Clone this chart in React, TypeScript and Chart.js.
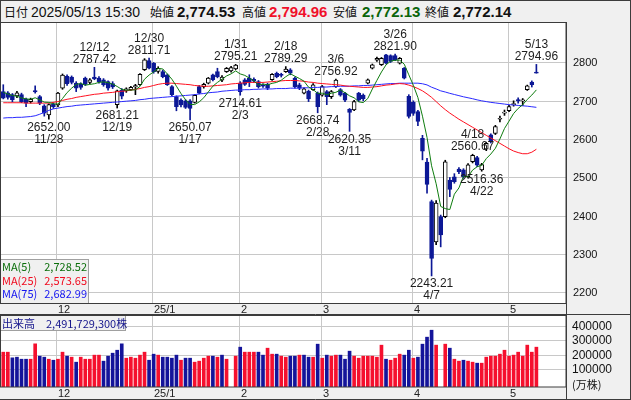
import React, { useEffect, useRef } from 'react';
import { Chart, registerables } from 'chart.js';
Chart.register(...registerables);

// ---------- data ----------
const dates = [
  '11/14','11/15','11/18','11/19','11/20','11/21','11/22','11/25','11/26','11/27','11/28','11/29',
  '12/2','12/3','12/4','12/5','12/6','12/9','12/10','12/11','12/12','12/13','12/16','12/17','12/18','12/19','12/20','12/23','12/24','12/25','12/26','12/27','12/30',
  '1/6','1/7','1/8','1/9','1/10','1/14','1/15','1/16','1/17','1/20','1/21','1/22','1/23','1/24','1/27','1/28','1/29','1/30','1/31',
  '2/3','2/4','2/5','2/6','2/7','2/10','2/12','2/13','2/14','2/17','2/18','2/19','2/20','2/21','2/25','2/26','2/27','2/28',
  '3/3','3/4','3/5','3/6','3/7','3/10','3/11','3/12','3/13','3/14','3/17','3/18','3/19','3/21','3/24','3/25','3/26','3/27','3/28','3/31',
  '4/1','4/2','4/3','4/4','4/7','4/8','4/9','4/10','4/11','4/14','4/15','4/16','4/17','4/18','4/21','4/22','4/23','4/24','4/25','4/28','4/30',
  '5/1','5/2','5/7','5/8','5/9','5/12','5/13'
];
const opens = [
  2724,2721,2716,2713,2716,2704,2698,2727,2711,2687,2663,2691,
  2689,2733,2764,2762,2746,2743,2759,2748,2762,2759,2755,2750,2745,2690,2728,2726,2729,2736,2742,2781,2805,
  2798,2777,2776,2768,2737,2711,2702,2700,2700,2696,2737,2737,2746,2768,2776,2754,2776,2778,2783,
  2746,2755,2759,2756,2750,2740,2743,2755,2772,2769,2776,2781,2759,2742,2720,2725,2729,2720,
  2715,2724,2711,2737,2729,2720,2678,2676,2720,2715,2746,2785,2806,2794,2820,2818,2818,2798,2785,2712,
  2696,2672,2602,2540,2437,2332,2398,2398,2493,2502,2522,2520,2502,2541,2552,2520,2574,2611,2615,2652,2668,
  2674,2690,2703,2700,2729,2749,2774.53
];
const highs = [
  2742,2724,2719,2725,2720,2707,2707,2739,2714,2690,2692,2695,
  2722,2770,2768,2765,2750,2747,2762,2758,2787.42,2763,2758,2752,2750,2728,2732,2734,2738,2743,2771,2810,2811.71,
  2800,2789,2780,2770,2740,2713,2705,2703,2703,2716,2740,2746,2761,2770,2785,2766,2787,2790,2795.21,
  2750,2758,2768,2760,2753,2744,2746,2771,2775,2772,2789.29,2784,2762,2746,2734,2728,2745,2723,
  2740,2727,2727,2756.92,2732,2722,2680,2701,2722,2718,2757,2796,2814,2813,2821,2820,2821.90,2813,2787,2716,
  2700,2675,2610,2550,2441,2440,2402,2545,2500,2510,2526,2523,2536,2560.67,2555,2537,2592,2614,2636,2660,2676,
  2688,2700,2708,2706,2741,2752,2794.96
];
const lows = [
  2705,2704,2697,2708,2695,2685,2694,2720,2690,2660,2652.00,2680,
  2685,2730,2740,2744,2724,2730,2740,2745,2755,2746,2738,2728,2732,2681.21,2705,2722,2727,2716,2740,2779,2783,
  2772,2772,2760,2740,2713,2674,2684,2680,2650.07,2694,2718,2733,2744,2752,2760,2750,2774,2775,2781,
  2714.61,2740,2737,2748,2733,2735,2729,2753,2760,2762,2774,2768,2733,2729,2718,2698,2727,2668.74,
  2712,2690,2706,2735,2712,2698,2620.35,2674,2698,2700,2744,2783,2803,2792,2796,2800,2805,2796,2757,2655,
  2662,2635,2546,2459,2243.21,2325,2319,2395,2450,2485,2510,2498,2500,2538,2528,2516.36,2570,2590,2612,2645,2662,
  2672,2686,2694,2688,2727,2736,2772.13
];
const closes = [
  2707,2709,2703,2721,2698,2694,2704,2723,2694,2668,2690,2685,
  2720,2767,2745,2748,2733,2735,2743,2755,2757,2750,2742,2733,2736,2726,2712,2731,2735,2740,2769,2807,2785,
  2776,2785,2763,2742,2716,2685,2689,2683,2680,2714,2720,2743,2759,2755,2763,2762,2785,2787,2793,
  2724,2743,2750,2751,2737,2738,2733,2769,2763,2766,2783,2772,2737,2733,2731,2705,2742,2685,
  2737,2711,2724,2754,2715,2702,2670,2698,2702,2705,2755,2794,2811,2811,2798,2803,2807,2811,2759,2659,
  2667,2646,2568.61,2482,2288.66,2433,2350,2541,2469,2489,2515,2502,2533,2558,2532,2534,2589,2593,2633,2654,2670,
  2685,2692,2700,2702,2739,2742,2772.14
];
// volume in 10k shares (万株); null = no bar drawn
const volumes = [
  219500,219500,180500,185000,171000,171000,171000,277000,192000,185000,171000,164000,
  171000,219500,192000,185000,150500,185000,171000,171000,199000,199000,157500,192000,212500,233000,277000,178000,185000,178000,199000,219500,164000,
  205700,199000,185000,185000,178000,199000,164000,178000,178000,150500,157500,178000,192000,192000,185000,199000,171000,null,192000,
  254000,219500,219500,219500,219500,199000,247000,205700,205700,192000,185000,192000,192000,199000,199000,185000,185000,274700,
  178000,199000,192000,199000,199000,171000,226400,192000,178000,192000,192000,192000,185000,267800,171000,164000,178000,205700,199000,233000,
  178000,185000,274700,323000,371000,268000,null,274700,247000,171000,157500,164000,157500,150500,143600,143600,185000,192000,192000,205700,233000,
  192000,199000,219500,192000,268000,219500,254000
];
const volumeUp = [
  1,1,0,0,0,0,1,1,0,0,1,0,
  1,1,0,1,0,1,1,1,1,1,0,0,0,0,0,1,1,1,1,1,0,
  0,1,0,0,0,0,1,0,0,1,1,1,1,0,1,0,1,1,1,
  0,1,1,1,0,0,1,1,0,1,1,0,0,1,0,0,1,0,
  1,0,1,1,0,0,0,1,1,1,1,1,1,1,0,1,1,1,0,0,
  1,0,0,0,0,1,0,1,0,1,1,0,1,1,0,1,1,1,1,1,1,
  1,1,1,1,1,1,1
];
const ma5 = [
  2722,2718,2714,2712,2707.6,2705,2704,2708,2702.6,2696.6,2695.8,2692,
  2691.4,2706,2721.4,2733,2742.6,2745.6,2740.8,2742.8,2744.6,2748,2749.4,2747.4,2743.6,2737.4,2729.8,2727.6,2728,2728.8,2737.4,2756.4,2767.2,
  2775.4,2784.4,2783.2,2770.2,2756.4,2738.2,2719,2703,2690.6,2690.2,2697.2,2708,2723.2,2738.2,2748,2756.4,2764.8,2770.4,2778,
  2770.2,2766.4,2759.4,2752.2,2741,2743.8,2741.8,2745.6,2748,2753.8,2762.8,2770.6,2764.2,2758.2,2751.2,2735.6,2729.6,2719.2,
  2720,2716,2719.8,2722.2,2728.2,2721.2,2713,2707.8,2697.4,2695.4,2706,2730.8,2753.4,2775.2,2793.8,2803.4,2806,2806,2795.6,2767.8,
  2740.6,2708.4,2659.9,2604.5,2530.5,2483.7,2424.5,2418.9,2416.3,2456.4,2472.8,2503.2,2501.6,2519.4,2528,2531.8,2549.2,2561.2,2576.2,2600.6,2627.8,
  2647,2666.8,2680.2,2689.8,2703.6,2715,2728.52
];
const ma25 = [
  2695,2695,2695,2695,2695,2694,2694,2694,2694,2694,2694,2696,
  2698,2701,2704,2706,2709,2711,2713,2715,2717,2718,2720,2721,2722,2724,2725,2726,2728,2730,2732,2735,2737,
  2740,2743,2745,2746,2746,2745,2744,2743,2742,2740,2739,2738,2738,2739,2740,2741,2742,2744,2745,
  2746,2747,2748,2748,2748,2748,2749,2750,2751,2752,2753,2753,2753,2752,2751,2749,2748,2746,
  2745,2744,2743,2742,2741,2739,2738,2737,2736,2735,2735,2736,2737,2739,2741,2742,2744,2745,2744,2741,
  2737,2732,2726,2718,2709,2698,2687,2677,2668,2660,2652,2645,2638,2631,2624,2617,2610,2603,2596,2589,2582,
  2575,2569,2565,2562,2562,2566,2573.65
];
const ma75 = [
  2655,2656,2656,2657,2657,2658,2659,2661,2665,2670,2675,2679,
  2681,2683,2685,2686,2688,2689,2690,2691,2692,2693,2694,2695,2696,2697,2698,2699,2700,2701,2703,2704,2706,
  2707,2708,2709,2710,2711,2712,2713,2714,2715,2716,2718,2719,2721,2722,2723,2725,2726,2727,2728,
  2728,2729,2729,2730,2730,2731,2731,2731,2732,2732,2732,2733,2733,2733,2734,2734,2735,2735,
  2736,2736,2737,2737,2738,2738,2738,2739,2739,2740,2740,2741,2742,2743,2744,2745,2745,2746,2746,2746,
  2746,2746,2744.5,2741.5,2735.5,2731,2726,2723,2719.5,2716.5,2713.5,2710.5,2708,2705.5,2702.5,2700,2698,2696,2694.5,2693,2691.5,
  2690,2689,2688,2687,2686,2684.5,2682.99
];
const priceTicks = [2200, 2300, 2400, 2500, 2600, 2700, 2800];
const volumeTicks = [100000, 200000, 300000, 400000];
const monthStartIdx = [12, 33, 52, 70, 90, 111];
const monthLabels = ['12', '25/1', '2', '3', '4', '5'];
const peakIdx = [10, 20, 25, 32, 41, 51, 52, 62, 69, 73, 76, 86, 94, 103, 105, 117];
const peakKind = ['L','H','L','H','L','H','L','H','L','H','L','H','L','H','L','H'];
const headerTime = '2025/05/13 15:30';
const volumeTotalText = '2,491,729,300株';

// ---------- style ----------
const BLUE = '#0c1896';
const VOL_RED = '#f5102e';
const VOL_BLUE = '#14149a';
const PAD_CATS = 6;
const RIGHT_W = 65;
const GRID = '#c8c8c8';
const FRAME = '#3c3c3c';
const PANEL_BG = '#f0f0f0';

const fmt2 = (v: number) =>
  v.toLocaleString('en-US', { minimumFractionDigits: 2, maximumFractionDigits: 2 });

function hline(ctx: CanvasRenderingContext2D, x1: number, x2: number, y: number) {
  ctx.beginPath(); ctx.moveTo(x1, y); ctx.lineTo(x2, y); ctx.stroke();
}
function vline(ctx: CanvasRenderingContext2D, x: number, y1: number, y2: number) {
  ctx.beginPath(); ctx.moveTo(x, y1); ctx.lineTo(x, y2); ctx.stroke();
}

export default function App() {
  const mainRef = useRef<HTMLCanvasElement>(null);
  const volRef = useRef<HTMLCanvasElement>(null);

  useEffect(() => {
    const n = dates.length;
    const labels = [...dates, ...Array(PAD_CATS).fill(' ')];
    const up = opens.map((o, i) => closes[i] >= o);
    const bodyData = opens.map((o, i) => [o, closes[i]]);
    const wickData = lows.map((l, i) => [l, highs[i]]);

    const monthGrid = (chart: any) => {
      const { ctx, chartArea: a } = chart;
      const xs = chart.scales.x;
      ctx.strokeStyle = GRID; ctx.lineWidth = 1;
      monthStartIdx.forEach((i) => {
        const px = Math.floor(xs.getPixelForValue(i)) - 0.5;
        vline(ctx, px, a.top, a.bottom);
      });
    };
    const monthText = (chart: any, yCenter: number) => {
      const { ctx } = chart;
      const xs = chart.scales.x;
      ctx.fillStyle = '#222';
      ctx.font = '11px "Liberation Sans", Arial, sans-serif';
      ctx.textAlign = 'left'; ctx.textBaseline = 'middle';
      monthStartIdx.forEach((i, k) => {
        const px = Math.floor(xs.getPixelForValue(i));
        ctx.fillText(monthLabels[k], px + 1, yCenter);
      });
    };

    const mainPlugin = {
      id: 'mainDecor',
      beforeDatasetsDraw(chart: any) {
        const { ctx, chartArea: a } = chart;
        const ys = chart.scales.y;
        ctx.save();
        ctx.fillStyle = PANEL_BG; ctx.fillRect(0, 0, chart.width, chart.height);
        ctx.fillStyle = '#fff'; ctx.fillRect(0, a.top, a.right, a.bottom - a.top);
        ctx.strokeStyle = GRID; ctx.lineWidth = 1;
        priceTicks.forEach((t) => {
          const py = Math.round(ys.getPixelForValue(t)) + 0.5;
          hline(ctx, 0, a.right, py);
        });
        monthGrid(chart);
        ctx.restore();
      },
      afterDraw(chart: any) {
        const { ctx, chartArea: a } = chart;
        const xs = chart.scales.x, ys = chart.scales.y;
        ctx.save();
        // peak annotations
        ctx.fillStyle = '#1e1e1e';
        ctx.font = '12px "Liberation Sans", Arial, sans-serif';
        ctx.textAlign = 'center'; ctx.textBaseline = 'middle';
        peakIdx.forEach((i, k) => {
          const px = xs.getPixelForValue(i);
          if (peakKind[k] === 'H') {
            const py = ys.getPixelForValue(highs[i]);
            ctx.fillText(highs[i].toFixed(2), px, py - 7.5);
            ctx.fillText(dates[i], px, py - 19.5);
          } else {
            const py = ys.getPixelForValue(lows[i]);
            ctx.fillText(lows[i].toFixed(2), px, py + 8);
            ctx.fillText(dates[i], px, py + 20);
          }
        });
        // MA legend box
        const bx = 0.5, by = a.bottom - 44 + 0.5, bw = 88, bh = 44;
        ctx.fillStyle = PANEL_BG; ctx.fillRect(bx, by, bw, bh);
        ctx.strokeStyle = '#a0a0a0'; ctx.strokeRect(bx, by, bw, bh);
        ctx.font = '11px "Noto Sans CJK JP", sans-serif';
        ctx.textBaseline = 'middle';
        const rows: [string, number, string][] = [
          ['MA(5)', ma5[n - 1], '#0a6e0a'],
          ['MA(25)', ma25[n - 1], '#f00a1e'],
          ['MA(75)', ma75[n - 1], '#1414f0'],
        ];
        rows.forEach(([name, v, c], r) => {
          const yy = by + 7.5 + r * 13.5;
          ctx.fillStyle = c;
          ctx.textAlign = 'left'; ctx.fillText(name, 2, yy);
          ctx.textAlign = 'right'; ctx.fillText(fmt2(v), 87, yy);
        });
        // right axis labels
        ctx.fillStyle = '#111';
        ctx.font = '11px "Liberation Sans", Arial, sans-serif';
        ctx.textAlign = 'left'; ctx.textBaseline = 'middle';
        priceTicks.forEach((t) => {
          ctx.fillText(String(t), a.right + 7, Math.round(ys.getPixelForValue(t)) + 1);
        });
        // month labels under chart
        monthText(chart, (a.bottom + chart.height) / 2 + 0.5);
        // frame
        ctx.strokeStyle = FRAME; ctx.lineWidth = 1;
        ctx.strokeRect(0.5, a.top + 0.5, a.right - 0.5, a.bottom - a.top);
        vline(ctx, a.right + 0.5, 0, chart.height);
        hline(ctx, 0, chart.width, chart.height - 0.5);
        vline(ctx, chart.width - 0.5, 0, chart.height);
        ctx.restore();
      },
    };

    const mainChart = new Chart(mainRef.current as HTMLCanvasElement, {
      type: 'bar',
      data: {
        labels,
        datasets: [
          { type: 'line', data: ma5, borderColor: '#0f7d0f', borderWidth: 1, pointRadius: 0, order: 1 } as any,
          { type: 'line', data: ma25, borderColor: '#ff1020', borderWidth: 1, pointRadius: 0, order: 1 } as any,
          { type: 'line', data: ma75, borderColor: '#2a2aff', borderWidth: 1, pointRadius: 0, order: 1 } as any,
          {
            type: 'bar', data: bodyData,
            backgroundColor: up.map((u) => (u ? '#ffffff' : BLUE)),
            borderColor: up.map((u) => (u ? '#000000' : BLUE)),
            borderWidth: 1, borderSkipped: false, barThickness: 4, grouped: false, minBarLength: 1, order: 2,
          } as any,
          {
            type: 'bar', data: wickData,
            backgroundColor: up.map((u) => (u ? '#000000' : BLUE)),
            borderWidth: 0, barThickness: 1, grouped: false, order: 3,
          } as any,
        ],
      },
      options: {
        responsive: false, animation: false, devicePixelRatio: 1, events: [],
        layout: { padding: { left: 1, right: RIGHT_W, top: 0, bottom: 12 } },
        plugins: { legend: { display: false }, tooltip: { enabled: false } },
        scales: {
          x: { type: 'category', display: false, offset: true },
          y: { type: 'linear', display: false, min: 2172.6, max: 2905.6 },
        },
      },
      plugins: [mainPlugin],
    });

    const volPlugin = {
      id: 'volDecor',
      beforeDatasetsDraw(chart: any) {
        const { ctx, chartArea: a } = chart;
        const ys = chart.scales.y;
        ctx.save();
        ctx.fillStyle = PANEL_BG; ctx.fillRect(0, 0, chart.width, chart.height);
        ctx.fillStyle = '#fff'; ctx.fillRect(0, a.top, a.right, a.bottom - a.top);
        ctx.strokeStyle = GRID; ctx.lineWidth = 1;
        volumeTicks.forEach((t) => {
          const py = Math.round(ys.getPixelForValue(t)) + 0.5;
          hline(ctx, 0, a.right, py);
        });
        monthGrid(chart);
        ctx.restore();
      },
      afterDraw(chart: any) {
        const { ctx, chartArea: a } = chart;
        const ys = chart.scales.y;
        ctx.save();
        // label box
        ctx.fillStyle = PANEL_BG; ctx.fillRect(0.5, 0.5, 125, 15);
        ctx.strokeStyle = '#a0a0a0'; ctx.strokeRect(0.5, 0.5, 125, 15);
        ctx.fillStyle = '#14148c';
        ctx.font = '11px "Noto Sans CJK JP", sans-serif';
        ctx.textAlign = 'left'; ctx.textBaseline = 'middle';
        ctx.fillText('出来高', 2, 8.5);
        ctx.fillText(volumeTotalText, 46, 8.5);
        // axis labels
        ctx.fillStyle = '#111';
        ctx.font = '12px "Liberation Sans", Arial, sans-serif';
        volumeTicks.forEach((t) => {
          ctx.fillText(String(t), a.right + 6, Math.round(ys.getPixelForValue(t)) + 1);
        });
        ctx.font = '11px "Noto Sans CJK JP", sans-serif';
        ctx.fillText('(万株)', a.right + 6, Math.round(ys.getPixelForValue(0)) + 1);
        monthText(chart, (a.bottom + chart.height) / 2 + 0.5);
        ctx.strokeStyle = FRAME; ctx.lineWidth = 1;
        ctx.strokeRect(0.5, a.top + 0.5, a.right - 0.5, a.bottom - a.top - 0.5);
        vline(ctx, a.right + 0.5, 0, chart.height);
        vline(ctx, chart.width - 0.5, 0, chart.height);
        hline(ctx, 0, chart.width, chart.height - 0.5);
        ctx.restore();
      },
    };

    const volMin = -20690;
    const volChart = new Chart(volRef.current as HTMLCanvasElement, {
      type: 'bar',
      data: {
        labels,
        datasets: [
          {
            data: volumes,
            backgroundColor: volumeUp.map((u) => (u ? VOL_RED : VOL_BLUE)),
            barThickness: 3, grouped: false, base: volMin, borderWidth: 0,
          } as any,
        ],
      },
      options: {
        responsive: false, animation: false, devicePixelRatio: 1, events: [],
        layout: { padding: { left: 1, right: RIGHT_W, top: 0, bottom: 13 } },
        plugins: { legend: { display: false }, tooltip: { enabled: false } },
        scales: {
          x: { type: 'category', display: false, offset: true },
          y: { type: 'linear', display: false, min: volMin, max: 475862 },
        },
      },
      plugins: [volPlugin],
    });

    return () => { mainChart.destroy(); volChart.destroy(); };
  }, []);

  const last = dates.length - 1;
  const lab: React.CSSProperties = { position: 'absolute', top: 3, font: '12px "Noto Sans CJK JP", sans-serif', color: '#111', whiteSpace: 'nowrap', lineHeight: '16px' };
  const num: React.CSSProperties = { position: 'absolute', top: 2, font: 'bold 15px "Liberation Sans", Arial, sans-serif', whiteSpace: 'nowrap', lineHeight: '17px' };

  return (
    <div style={{ position: 'fixed', left: 0, top: 0, width: 631, height: 400, background: PANEL_BG, overflow: 'hidden' }}>
      <div style={{ position: 'absolute', left: 0, top: 0, width: 631, height: 22, boxSizing: 'border-box', border: `1px solid ${FRAME}`, borderBottom: 'none', background: PANEL_BG }}>
        <span style={{ ...lab, left: 3 }}>日付</span>
        <span style={{ ...lab, left: 30, font: '14px "Liberation Sans", Arial, sans-serif' }}>{headerTime}</span>
        <span style={{ ...lab, left: 149 }}>始値</span>
        <span style={{ ...num, left: 176, color: '#111' }}>{fmt2(opens[last])}</span>
        <span style={{ ...lab, left: 241 }}>高値</span>
        <span style={{ ...num, left: 268, color: '#f0102a' }}>{fmt2(highs[last])}</span>
        <span style={{ ...lab, left: 332 }}>安値</span>
        <span style={{ ...num, left: 361, color: '#0a640a' }}>{fmt2(lows[last])}</span>
        <span style={{ ...lab, left: 424 }}>終値</span>
        <span style={{ ...num, left: 452, color: '#111' }}>{fmt2(closes[last])}</span>
      </div>
      <canvas ref={mainRef} width={631} height={293} style={{ position: 'absolute', left: 0, top: 22, width: 631, height: 293 }} />
      <canvas ref={volRef} width={631} height={85} style={{ position: 'absolute', left: 0, top: 315, width: 631, height: 85 }} />
    </div>
  );
}
